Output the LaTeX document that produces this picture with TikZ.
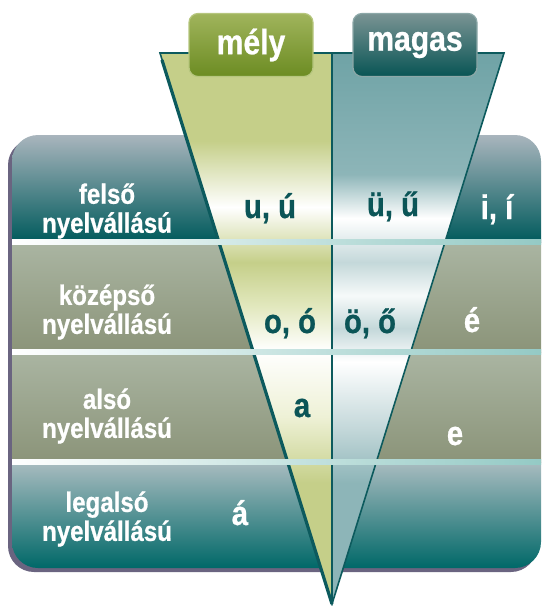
\documentclass[tikz,border=0pt]{standalone}
\usepackage{fontspec}
\setmainfont{Liberation Sans}[FakeStretch=0.86, BoldFeatures={FakeBold=0.7}]

\definecolor{funnelline}{HTML}{0C5A5D}
\definecolor{vowelteal}{HTML}{0B5557}
\definecolor{boxshadow}{HTML}{6A6480}
\definecolor{septeal}{HTML}{66B3AC}
\definecolor{melyg}{HTML}{C5CF89}
\definecolor{melyl}{HTML}{E2E8BE}
\definecolor{melyp}{HTML}{EEF1D6}
\definecolor{magt}{HTML}{6FA3A6}
\definecolor{magm}{HTML}{8DB5B8}
\definecolor{magl}{HTML}{C4D8DA}

% glare of the two funnel halves (stops 25bp..75bp cover the path)
\pgfdeclareverticalshading{melyglare}{100bp}{color(0bp)=(melyg); color(25bp)=(melyg);
  color(36bp)=(melyg); color(42bp)=(melyp); color(48bp)=(white); color(52bp)=(melyl);
  color(56bp)=(melyg); color(61bp)=(white); color(67bp)=(melyg); color(100bp)=(melyg)}
\pgfdeclareverticalshading{magasglare}{100bp}{color(0bp)=(magm); color(25bp)=(magm);
  color(36bp)=(magm); color(41bp)=(magl); color(47bp)=(white); color(50bp)=(magl);
  color(53bp)=(white!85!magl); color(56bp)=(magl); color(60bp)=(white); color(64bp)=(magm);
  color(75bp)=(magt); color(100bp)=(magt)}

\tikzset{
rowlabel/.style = {text=white, align=center, font=\fontsize{28}{29}\selectfont\bfseries},
vowel/.style    = {anchor=base, font=\fontsize{34}{36}\selectfont\bfseries},
darkvowel/.style = {vowel, text=vowelteal},
lightvowel/.style = {vowel, text=white},
headbtn/.style  = {rectangle, rounded corners=9, minimum width=124, minimum height=63,
                   text=white, font=\fontsize{35}{37}\selectfont\bfseries, line width=1.2}
}

\begin{document}
\begin{tikzpicture}[x=1pt,y=-1pt]
\useasboundingbox (0,0) rectangle (544,606);

% frame with its shadow
\fill[boxshadow, rounded corners=26] (8,139) rectangle (537,572);
\begin{scope}
\clip[rounded corners=26] (12,135) rectangle (541,568);
\shade[top color={rgb,255:red,169;green,181;blue,189}, middle color={rgb,255:red,60;green,112;blue,116},
       bottom color={rgb,255:red,0;green,90;blue,92}] (12,135) rectangle (541,242);
\shade[top color={rgb,255:red,170;green,181;blue,162}, bottom color={rgb,255:red,139;green,148;blue,121}]
       (12,242) rectangle (541,352);
\shade[top color={rgb,255:red,170;green,181;blue,162}, bottom color={rgb,255:red,139;green,148;blue,121}]
       (12,352) rectangle (541,462);
\shade[top color={rgb,255:red,169;green,188;blue,192}, middle color={rgb,255:red,80;green,145;blue,146},
       bottom color={rgb,255:red,0;green,104;blue,104}] (12,462) rectangle (541,568);
\end{scope}

% funnel
\shade[shading=melyglare] (160,53) -- (332,53) -- (332,604) -- cycle;
\shade[shading=magasglare] (332,53) -- (504,53) -- (332,604) -- cycle;
\draw[funnelline, line width=1.6, line join=miter] (160,53) -- (504,53) -- (332,604) -- cycle;
\draw[funnelline, line width=3.2] (162,60) -- (332,604);
\draw[funnelline, line width=1.4] (332,53) -- (332,604);

% row separators
\foreach \y in {242,352,462} {
  \shade[left color=white, middle color=septeal, right color=septeal!70!white]
     (12,\y-2.6) rectangle (541,\y+2.6);
}

% headers
\node[headbtn, top color={rgb,255:red,160;green,180;blue,92}, bottom color={rgb,255:red,108;green,140;blue,34},
      draw={rgb,255:red,182;green,198;blue,126}] (mely) at (251,45) {mély};
\node[headbtn, top color={rgb,255:red,122;green,148;blue,148}, bottom color={rgb,255:red,8;green,84;blue,84},
      draw={rgb,255:red,140;green,168;blue,168}] (magas) at (415,45) {magas};

% row labels
\node[rowlabel] (felso)    at (107,211) {felső\\nyelvállású};
\node[rowlabel] (kozepso)  at (107,312) {középső\\nyelvállású};
\node[rowlabel] (also)     at (107,416) {alsó\\nyelvállású};
\node[rowlabel] (legalso)  at (107,519) {legalsó\\nyelvállású};

% vowels
\node[darkvowel]  (uu) at (270,218) {u, ú};
\node[darkvowel]  (ue) at (393,216) {ü, ű};
\node[lightvowel] (ii) at (497,219) {i, í};
\node[darkvowel]  (oo) at (290,333) {o, ó};
\node[darkvowel]  (oe) at (370,333) {ö, ő};
\node[lightvowel] (ee) at (472,332) {é};
\node[darkvowel]  (aa) at (302,417) {a};
\node[lightvowel] (e)  at (455,445) {e};
\node[lightvowel] (a)  at (240,525) {á};
\end{tikzpicture}
\end{document}
